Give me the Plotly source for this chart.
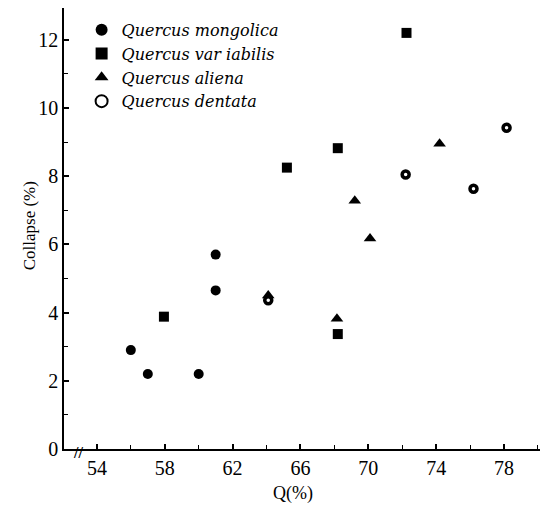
import plotly.graph_objects as go

# Data
mongolica_x = [56.0, 57.0, 60.0, 61.0, 61.0]
mongolica_y = [2.9, 2.2, 2.2, 5.7, 4.65]

variabilis_x = [57.95, 65.2, 68.2, 72.25, 68.2]
variabilis_y = [3.88, 8.25, 8.82, 12.2, 3.37]

aliena_x = [64.1, 68.15, 69.2, 70.1, 74.2]
aliena_y = [4.5, 3.82, 7.28, 6.17, 8.95]

dentata_x = [64.1, 72.2, 76.2, 78.15]
dentata_y = [4.36, 8.05, 7.63, 9.42]

series_names = ["Quercus mongolica", "Quercus var iabilis", "Quercus aliena", "Quercus dentata"]

x_ticks = [54, 58, 62, 66, 70, 74, 78]
y_ticks = [0, 2, 4, 6, 8, 10, 12]

SERIF = "Liberation Serif, Times New Roman, serif"
LEG_FONT = "DejaVu Serif, serif"

fig = go.Figure()
fig.add_trace(go.Scatter(x=mongolica_x, y=mongolica_y, mode="markers",
                         name="<i>" + series_names[0] + "</i>",
                         marker=dict(symbol="circle", size=10, color="black")))
fig.add_trace(go.Scatter(x=variabilis_x, y=variabilis_y, mode="markers",
                         name="<i>" + series_names[1] + "</i>",
                         marker=dict(symbol="square", size=10, color="black")))
fig.add_trace(go.Scatter(x=aliena_x, y=aliena_y, mode="markers",
                         name="<i>" + series_names[2] + "</i>",
                         marker=dict(symbol="triangle-up", size=11, color="black")))
fig.add_trace(go.Scatter(x=dentata_x, y=dentata_y, mode="markers",
                         name="<i>" + series_names[3] + "</i>",
                         marker=dict(symbol="circle", size=7, color="white",
                                     line=dict(color="black", width=3.5))))

axis_common = dict(
    showline=True, linecolor="black", linewidth=1.5, mirror=True,
    ticks="inside", ticklen=5, tickcolor="black", tickwidth=1.5,
    showgrid=False, zeroline=False, automargin=False,
    tickfont=dict(family=SERIF, size=20, color="black"),
)

fig.update_xaxes(range=[52.06, 80.12], tickvals=x_ticks,
                 minor=dict(dtick=2, tick0=54, ticks="inside", ticklen=4,
                            tickcolor="black", tickwidth=1.2),
                 **axis_common)
fig.update_yaxes(range=[0, 12.93], tickvals=y_ticks,
                 minor=dict(dtick=1, tick0=0, ticks="inside", ticklen=4,
                            tickcolor="black", tickwidth=1.2),
                 **axis_common)

# axis titles
fig.add_annotation(x=0.481, y=-0.1, xref="paper", yref="paper", text="Q(%)",
                   showarrow=False, xanchor="center", yanchor="middle",
                   font=dict(family=SERIF, size=18, color="black"))
fig.add_annotation(x=-0.0735, y=0.505, xref="paper", yref="paper", text="Collapse (%)",
                   showarrow=False, xanchor="center", yanchor="middle", textangle=-90,
                   font=dict(family=SERIF, size=17, color="black"))

# axis break mark near the origin
fig.add_annotation(x=52.88, y=0, xref="x", yref="y", text="<b>//</b>", showarrow=False,
                   yshift=-3, font=dict(family=SERIF, size=16, color="black"))

fig.update_layout(
    width=540, height=502,
    margin=dict(l=56, r=8, t=0, b=61),
    paper_bgcolor="white", plot_bgcolor="white",
    showlegend=True,
    legend=dict(x=0.037, y=0.989, xanchor="left", yanchor="top",
                bgcolor="rgba(0,0,0,0)", borderwidth=0, itemsizing="constant",
                font=dict(family=LEG_FONT, size=16, color="black"),
                itemwidth=30, tracegroupgap=0),
)

fig.write_html("out.html")
